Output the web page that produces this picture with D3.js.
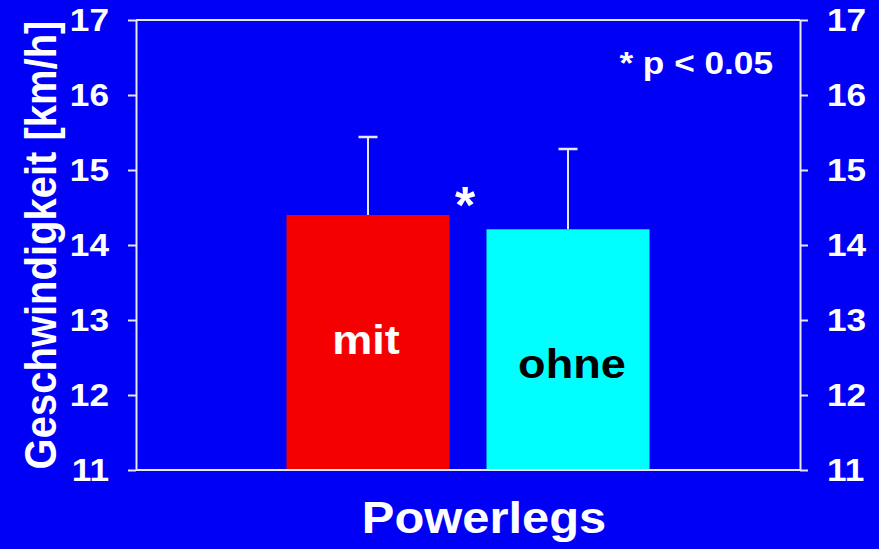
<!DOCTYPE html>
<html>
<head>
<meta charset="utf-8">
<script src="https://cdn.jsdelivr.net/npm/d3@7"></script>
<style>
  html, body { margin: 0; padding: 0; background: #0000f6; }
  svg { display: block; }
  text { font-family: "Liberation Sans", Arial, sans-serif; font-weight: bold; }
</style>
</head>
<body>
<svg id="chart" width="879" height="549"></svg>
<script>
// ---- data ----
const categories = ["mit", "ohne"];
const means = [14.4, 14.21];
const sds = [1.04, 1.07];
const yTicks = [11, 12, 13, 14, 15, 16, 17];
const barColors = ["#f50000", "#00ffff"];
const labelColors = ["#ffffff", "#000000"];
const xTitle = "Powerlegs";
const yTitle = "Geschwindigkeit [km/h]";
const sigNote = "* p < 0.05";

(function () {
// ---- layout ----
const W = 879, H = 549;
const mLeft = 136, mRight = 800, mTop = 20, mBottom = 470;
const axisColor = "#e8e8f0";
const SX = 1.1; // horizontal stretch of lettering in the original

function stretch(sel, k) {
  sel.each(function () {
    const l = this.getComputedTextLength();
    d3.select(this).attr("textLength", l * k).attr("lengthAdjust", "spacingAndGlyphs");
  });
}

const svg = d3.select("#chart");
svg.append("rect").attr("width", W).attr("height", H).attr("fill", "#0000f6");

const y = d3.scaleLinear().domain([11, 17]).range([mBottom, mTop]);
const x = d3.scaleBand().domain(categories).range([mLeft, mRight])
  .paddingInner(0.185).paddingOuter(0.7525);

// bars
const g = svg.append("g");
categories.forEach((c, i) => {
  const bx = x(c), bw = x.bandwidth(), cx = bx + bw / 2;
  g.append("line").attr("x1", cx).attr("x2", cx)
    .attr("y1", y(means[i])).attr("y2", y(means[i] + sds[i]))
    .attr("stroke", axisColor).attr("stroke-width", 2);
  g.append("line").attr("x1", cx - 9.5).attr("x2", cx + 9.5)
    .attr("y1", y(means[i] + sds[i])).attr("y2", y(means[i] + sds[i]))
    .attr("stroke", axisColor).attr("stroke-width", 2.5);
  g.append("rect").attr("x", bx).attr("y", y(means[i]))
    .attr("width", bw).attr("height", y(11) - y(means[i]))
    .attr("fill", barColors[i]);
});

// bar labels
svg.append("text").attr("x", x("mit") + x.bandwidth() / 2 - 2).attr("y", y(12.55))
  .attr("text-anchor", "middle").attr("font-size", 41).attr("fill", labelColors[0]).text("mit")
  .call(stretch, SX);
svg.append("text").attr("x", x("ohne") + x.bandwidth() / 2 + 4).attr("y", y(12.23))
  .attr("text-anchor", "middle").attr("font-size", 41).attr("fill", labelColors[1]).text("ohne")
  .call(stretch, SX);

// axes
const yAxisL = d3.axisLeft(y).tickValues(yTicks).tickFormat(d3.format("d"))
  .tickSize(8).tickSizeOuter(0).tickPadding(19);
const yAxisR = d3.axisRight(y).tickValues(yTicks).tickFormat(d3.format("d"))
  .tickSize(8).tickSizeOuter(0).tickPadding(19);

function styleAxis(sel) {
  sel.select(".domain").attr("stroke", axisColor).attr("stroke-width", 2);
  sel.selectAll(".tick line").attr("stroke", axisColor).attr("stroke-width", 2);
  sel.selectAll(".tick text").attr("fill", "#ffffff").attr("font-size", 32)
    .attr("font-family", "Liberation Sans, Arial, sans-serif").attr("font-weight", "bold")
    .call(stretch, SX);
}
svg.append("g").attr("transform", `translate(${mLeft},0)`).call(yAxisL).call(styleAxis);
svg.append("g").attr("transform", `translate(${mRight},0)`).call(yAxisR).call(styleAxis);

// frame top & bottom
svg.append("line").attr("x1", mLeft).attr("x2", mRight).attr("y1", mTop).attr("y2", mTop)
  .attr("stroke", axisColor).attr("stroke-width", 2);
svg.append("line").attr("x1", mLeft).attr("x2", mRight).attr("y1", mBottom).attr("y2", mBottom)
  .attr("stroke", axisColor).attr("stroke-width", 2);

// significance star between bars
svg.append("text").attr("x", (x("mit") + x.bandwidth() + x("ohne")) / 2 - 3).attr("y", y(14.3))
  .attr("text-anchor", "middle").attr("font-size", 52).attr("fill", "#ffffff").text("*");

// note
svg.append("text").attr("x", 773).attr("y", 74).attr("text-anchor", "end")
  .attr("font-size", 32).attr("fill", "#ffffff").text(sigNote).call(stretch, SX);

// titles
svg.append("text").attr("transform", `translate(56,${(mTop + mBottom) / 2}) scale(${SX},1) rotate(-90)`)
  .attr("text-anchor", "middle").attr("font-size", 40).attr("fill", "#ffffff").text(yTitle);
svg.append("text").attr("x", 484).attr("y", 533).attr("text-anchor", "middle")
  .attr("font-size", 44).attr("fill", "#ffffff").text(xTitle).call(stretch, 1.11);
})();
</script>
</body>
</html>
